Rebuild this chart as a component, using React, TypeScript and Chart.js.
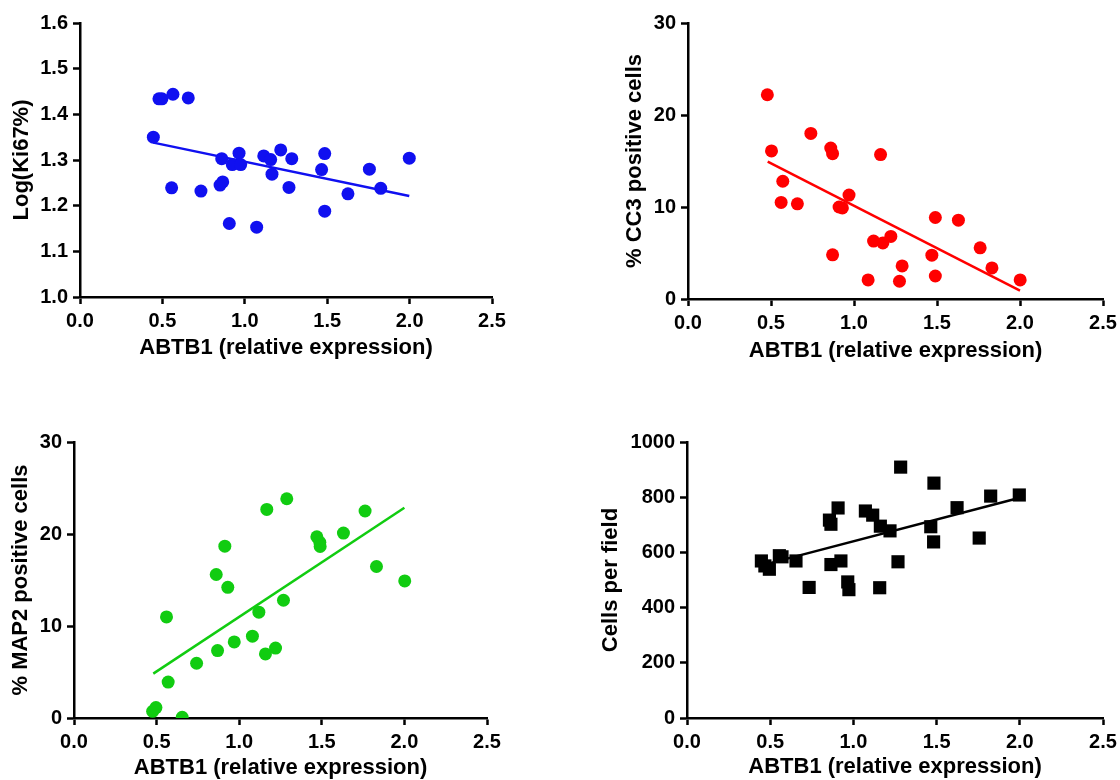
import React, { useEffect, useRef } from 'react';
import { Chart, registerables } from 'chart.js';

Chart.register(...registerables);

const FONT_FAMILY = 'Arial, "Liberation Sans", "DejaVu Sans", sans-serif';

// Shared x axis
const xTickValues = [0, 0.5, 1, 1.5, 2, 2.5];
const xTickLabels = ['0.0', '0.5', '1.0', '1.5', '2.0', '2.5'];
const xAxisTitle = 'ABTB1 (relative expression)';

// Panel A: Log(Ki67%)
const ki67X = [0.445, 0.479, 0.497, 0.564, 0.657, 0.556, 0.734, 0.86, 0.85, 0.866, 0.906, 0.924, 0.965, 0.975, 1.072, 1.115, 1.157, 1.165, 1.218, 1.268, 1.285, 1.466, 1.485, 1.485, 1.626, 1.756, 1.825, 1.998];
const ki67Y = [1.35, 1.434, 1.434, 1.444, 1.436, 1.239, 1.232, 1.303, 1.245, 1.252, 1.161, 1.29, 1.315, 1.29, 1.153, 1.309, 1.301, 1.269, 1.322, 1.24, 1.303, 1.279, 1.314, 1.188, 1.226, 1.28, 1.238, 1.304];
const ki67FitX = [0.445, 1.998];
const ki67FitY = [1.338, 1.221];
const ki67TickValues = [1.0, 1.1, 1.2, 1.3, 1.4, 1.5, 1.6];
const ki67TickLabels = ['1.0', '1.1', '1.2', '1.3', '1.4', '1.5', '1.6'];

// Panel B: % CC3 positive cells
const cc3X = [0.478, 0.503, 0.571, 0.561, 0.659, 0.74, 0.86, 0.871, 0.871, 0.91, 0.93, 0.97, 1.085, 1.118, 1.174, 1.16, 1.222, 1.274, 1.29, 1.469, 1.49, 1.49, 1.629, 1.76, 1.831, 2.001];
const cc3Y = [22.2, 16.1, 12.8, 10.5, 10.35, 18.0, 16.4, 15.8, 4.8, 10.0, 9.9, 11.3, 2.07, 6.3, 6.1, 15.7, 6.8, 1.93, 3.6, 4.76, 8.86, 2.5, 8.57, 5.56, 3.38, 2.07];
const cc3FitX = [0.48, 2.0];
const cc3FitY = [14.93, 0.91];
const cc3TickValues = [0, 10, 20, 30];
const cc3TickLabels = ['0', '10', '20', '30'];

// Panel C: % MAP2 positive cells
const map2X = [0.476, 0.496, 0.57, 0.56, 0.655, 0.742, 0.861, 0.869, 0.913, 0.931, 0.97, 1.08, 1.119, 1.159, 1.167, 1.22, 1.268, 1.288, 1.47, 1.488, 1.49, 1.631, 1.762, 1.831, 2.002];
const map2Y = [0.73, 1.13, 3.9, 10.99, 0.07, 5.95, 15.6, 7.33, 18.68, 14.2, 8.27, 8.89, 11.5, 6.96, 22.67, 7.6, 12.8, 23.83, 19.7, 19.1, 18.64, 20.1, 22.5, 16.47, 14.9];
const map2FitX = [0.48, 2.0];
const map2FitY = [4.82, 22.85];
const map2TickValues = [0, 10, 20, 30];
const map2TickLabels = ['0', '10', '20', '30'];

// Panel D: Cells per field
const cellsX = [0.447, 0.468, 0.495, 0.555, 0.571, 0.655, 0.734, 0.856, 0.865, 0.865, 0.908, 0.925, 0.966, 0.973, 1.072, 1.116, 1.162, 1.158, 1.22, 1.268, 1.284, 1.465, 1.482, 1.484, 1.623, 1.756, 1.825, 1.997];
const cellsY = [569, 551, 539, 588, 584, 569, 473, 717, 702, 556, 761, 569, 493, 465, 750, 735, 695, 472, 678, 566, 909, 693, 638, 851, 762, 652, 804, 808];
const cellsFitX = [0.447, 2.0];
const cellsFitY = [553, 798];
const cellsTickValues = [0, 200, 400, 600, 800, 1000];
const cellsTickLabels = ['0', '200', '400', '600', '800', '1000'];

type Area = { left: number; top: number; right: number; bottom: number };

type PanelProps = {
  area: Area;
  xs: number[];
  ys: number[];
  fitX: number[];
  fitY: number[];
  yTickValues: number[];
  yTickLabels: string[];
  yTitle: string;
  yTitleX: number;
  xTitleY: number;
  color: string;
  pointStyle: 'circle' | 'rect';
  radius: number;
};

const Y_W = 100;
const X_H = 75;
const PAD_T = 20;
const PAD_R = 30;
const TITLE_SIZE = 22;
const TICK_SIZE = 20;
const LINE_W = 2.5;

function Panel(p: PanelProps) {
  const ref = useRef<HTMLCanvasElement>(null);
  const w = p.area.right - p.area.left;
  const h = p.area.bottom - p.area.top;
  const cw = Y_W + w + PAD_R;
  const ch = PAD_T + h + X_H;
  const cl = p.area.left - Y_W;
  const ct = p.area.top - PAD_T;

  useEffect(() => {
    if (!ref.current) return;
    const half = (TITLE_SIZE * 1.2) / 2;
    const yTitlePad = p.yTitleX - cl - half;
    const xTitlePad = p.area.bottom + X_H - p.xTitleY - half;
    const tickFont = { family: FONT_FAMILY, size: TICK_SIZE, weight: 'bold' as const };
    const titleFont = { family: FONT_FAMILY, size: TITLE_SIZE, weight: 'bold' as const };
    const grid = {
      drawOnChartArea: false,
      drawTicks: true,
      tickLength: 7,
      tickWidth: LINE_W,
      tickColor: '#000',
      color: '#000',
    };
    const border = { display: true, color: '#000', width: LINE_W };

    const chart = new Chart(ref.current, {
      type: 'scatter',
      data: {
        datasets: [
          {
            type: 'scatter',
            data: p.xs.map((x, i) => ({ x, y: p.ys[i] })),
            backgroundColor: p.color,
            borderColor: p.color,
            borderWidth: 0,
            pointRadius: p.radius,
            pointStyle: p.pointStyle,
            order: 0,
          },
          {
            type: 'line',
            data: p.fitX.map((x, i) => ({ x, y: p.fitY[i] })),
            borderColor: p.color,
            backgroundColor: p.color,
            borderWidth: 2.5,
            pointRadius: 0,
            showLine: true,
            fill: false,
            tension: 0,
            order: 1,
          } as any,
        ],
      },
      options: {
        responsive: false,
        animation: false,
        devicePixelRatio: 1,
        layout: { padding: { left: 0, top: PAD_T, right: PAD_R, bottom: 0 } },
        plugins: {
          legend: { display: false },
          tooltip: { enabled: false },
        },
        scales: {
          x: {
            type: 'linear',
            position: 'bottom',
            min: 0,
            max: 2.5,
            afterBuildTicks: (ax: any) => {
              ax.ticks = xTickValues.map((v) => ({ value: v }));
            },
            afterFit: (ax: any) => {
              ax.height = X_H;
              ax.paddingLeft = 0;
              ax.paddingRight = 0;
            },
            ticks: {
              autoSkip: false,
              maxRotation: 0,
              minRotation: 0,
              padding: 5,
              color: '#000',
              font: tickFont,
              callback: (_v: any, i: number) => xTickLabels[i],
            },
            grid,
            border,
            title: {
              display: true,
              text: xAxisTitle,
              color: '#000',
              font: titleFont,
              padding: { top: 0, bottom: xTitlePad },
            },
          },
          y: {
            type: 'linear',
            position: 'left',
            min: p.yTickValues[0],
            max: p.yTickValues[p.yTickValues.length - 1],
            afterBuildTicks: (ax: any) => {
              ax.ticks = p.yTickValues.map((v) => ({ value: v }));
            },
            afterFit: (ax: any) => {
              ax.width = Y_W;
              ax.paddingTop = 0;
              ax.paddingBottom = 0;
            },
            ticks: {
              autoSkip: false,
              padding: 5,
              color: '#000',
              font: tickFont,
              callback: (_v: any, i: number) => p.yTickLabels[i],
            },
            grid,
            border,
            title: {
              display: true,
              text: p.yTitle,
              color: '#000',
              font: titleFont,
              padding: { top: yTitlePad, bottom: 0 },
            },
          },
        },
      } as any,
    });
    return () => chart.destroy();
  }, []);

  return (
    <canvas
      ref={ref}
      width={cw}
      height={ch}
      style={{ position: 'absolute', left: cl, top: ct, width: cw, height: ch, display: 'block' }}
    />
  );
}

export default function App() {
  return (
    <div
      style={{
        position: 'absolute',
        left: 0,
        top: 0,
        width: 1120,
        height: 780,
        overflow: 'hidden',
        background: '#fff',
      }}
    >
      <Panel
        area={{ left: 80, top: 23, right: 492, bottom: 297 }}
        xs={ki67X}
        ys={ki67Y}
        fitX={ki67FitX}
        fitY={ki67FitY}
        yTickValues={ki67TickValues}
        yTickLabels={ki67TickLabels}
        yTitle="Log(Ki67%)"
        yTitleX={22}
        xTitleY={348}
        color="#1010f0"
        pointStyle="circle"
        radius={6.5}
      />
      <Panel
        area={{ left: 688, top: 23, right: 1103, bottom: 299 }}
        xs={cc3X}
        ys={cc3Y}
        fitX={cc3FitX}
        fitY={cc3FitY}
        yTickValues={cc3TickValues}
        yTickLabels={cc3TickLabels}
        yTitle="% CC3 positive cells"
        yTitleX={635}
        xTitleY={351}
        color="#ff0000"
        pointStyle="circle"
        radius={6.5}
      />
      <Panel
        area={{ left: 74, top: 442, right: 487, bottom: 718 }}
        xs={map2X}
        ys={map2Y}
        fitX={map2FitX}
        fitY={map2FitY}
        yTickValues={map2TickValues}
        yTickLabels={map2TickLabels}
        yTitle="% MAP2 positive cells"
        yTitleX={21}
        xTitleY={768}
        color="#11cc11"
        pointStyle="circle"
        radius={6.5}
      />
      <Panel
        area={{ left: 687, top: 442, right: 1103, bottom: 718 }}
        xs={cellsX}
        ys={cellsY}
        fitX={cellsFitX}
        fitY={cellsFitY}
        yTickValues={cellsTickValues}
        yTickLabels={cellsTickLabels}
        yTitle="Cells per field"
        yTitleX={611}
        xTitleY={767}
        color="#000000"
        pointStyle="rect"
        radius={9.3}
      />
    </div>
  );
}
